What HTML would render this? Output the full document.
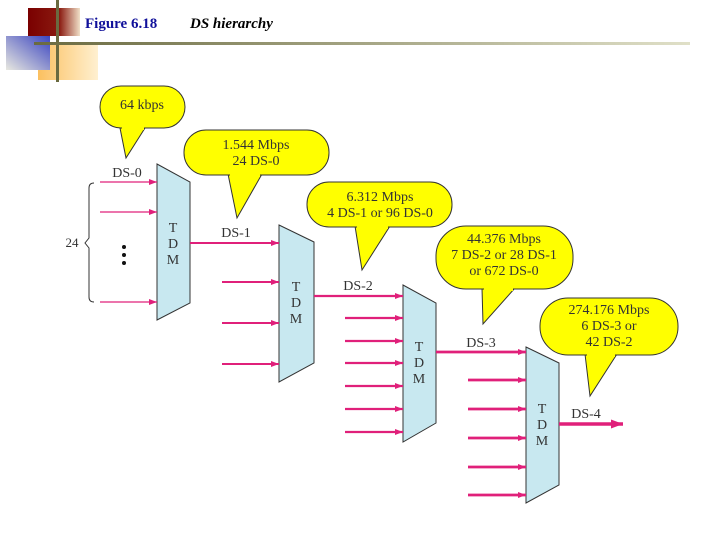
<!DOCTYPE html>
<html><head><style>
body{margin:0;width:720px;height:540px;background:#fff;overflow:hidden;font-family:"Liberation Serif",serif}
</style></head><body>
<svg width="720" height="540" viewBox="0 0 720 540" xmlns="http://www.w3.org/2000/svg" font-family="Liberation Serif, serif">
<defs>
<linearGradient id="bl2" x1="1" y1="0" x2="0" y2="1"><stop offset="0" stop-color="#3a44c0"/><stop offset="1" stop-color="#e8e8e0"/></linearGradient>
<linearGradient id="or" x1="0" y1="0" x2="1" y2="0"><stop offset="0" stop-color="#fbc060"/><stop offset="1" stop-color="#fff0d0"/></linearGradient>
<linearGradient id="rd" x1="0" y1="0" x2="1" y2="0"><stop offset="0" stop-color="#7a0000"/><stop offset="0.6" stop-color="#8a1a10"/><stop offset="1" stop-color="#f0e0c8"/></linearGradient>
<linearGradient id="ln" x1="0" y1="0" x2="1" y2="0"><stop offset="0" stop-color="#6a6a40"/><stop offset="1" stop-color="#e0e0c8"/></linearGradient>
<marker id="ah" markerWidth="8" markerHeight="6" refX="8" refY="3" orient="auto" markerUnits="userSpaceOnUse"><path d="M0,0 L8,3 L0,6 z" fill="#e0207a"/></marker>
<marker id="ah2" markerWidth="12" markerHeight="9" refX="12" refY="4.5" orient="auto" markerUnits="userSpaceOnUse"><path d="M0,0 L12,4.5 L0,9 z" fill="#e0207a"/></marker>
</defs>
<rect x="28" y="8" width="52" height="28" fill="url(#rd)"/>
<rect x="38" y="44" width="60" height="36" fill="url(#or)"/>
<rect x="6" y="36" width="44" height="34" fill="url(#bl2)"/>
<rect x="56" y="0" width="3" height="82" fill="#6a6a40"/>
<rect x="34" y="42" width="656" height="3" fill="url(#ln)"/>
<text x="85" y="28" font-size="15" font-weight="bold" fill="#10109a">Figure 6.18</text>
<text x="190" y="28" font-size="15" font-weight="bold" font-style="italic" fill="#000">DS hierarchy</text>

<g stroke="#333" stroke-width="1" fill="#ffff00">
<path d="M120,128 L126,158 L145,128 Z" />
<rect x="100" y="86" width="85" height="42" rx="21"/>
<path d="M228,174 L237,218 L262,174 Z"/>
<rect x="184" y="130" width="145" height="45" rx="22"/>
<path d="M355,226 L362,270 L390,226 Z"/>
<rect x="307" y="182" width="145" height="45" rx="22"/>
<path d="M482,288 L483,324 L515,288 Z"/>
<rect x="436" y="226" width="137" height="63" rx="30"/>
<path d="M585,354 L590,396 L617,354 Z"/>
<rect x="540" y="298" width="138" height="57" rx="28"/>
</g>
<g fill="#ffff00"><rect x="122" y="125" width="22" height="5"/><rect x="230" y="172" width="30" height="5"/><rect x="357" y="224" width="31" height="5"/><rect x="484" y="286" width="29" height="5"/><rect x="587" y="352" width="28" height="5"/></g>
<g font-size="14" text-anchor="middle" fill="#333">
<text x="142" y="109">64 kbps</text>
<text x="256" y="149">1.544 Mbps</text><text x="256" y="165">24 DS-0</text>
<text x="380" y="201">6.312 Mbps</text><text x="380" y="217">4 DS-1 or 96 DS-0</text>
<text x="504" y="243">44.376 Mbps</text><text x="504" y="259">7 DS-2 or 28 DS-1</text><text x="504" y="275">or 672 DS-0</text>
<text x="609" y="314">274.176 Mbps</text><text x="609" y="330">6 DS-3 or</text><text x="609" y="346">42 DS-2</text>
</g>

<g fill="#c8e8f0" stroke="#333" stroke-width="1">
<path d="M157,164 L190,182 L190,303 L157,320 Z"/>
<path d="M279,225 L314,242 L314,363 L279,382 Z"/>
<path d="M403,285 L436,303 L436,423 L403,442 Z"/>
<path d="M526,347 L559,363 L559,485 L526,503 Z"/>
</g>
<g font-size="14" text-anchor="middle" fill="#333">
<text x="173" y="232">T</text><text x="173" y="248">D</text><text x="173" y="264">M</text>
<text x="296" y="291">T</text><text x="296" y="307">D</text><text x="296" y="323">M</text>
<text x="419" y="351">T</text><text x="419" y="367">D</text><text x="419" y="383">M</text>
<text x="542" y="413">T</text><text x="542" y="429">D</text><text x="542" y="445">M</text>
<text x="127" y="177">DS-0</text>
<text x="236" y="237">DS-1</text>
<text x="358" y="290">DS-2</text>
<text x="481" y="347">DS-3</text>
<text x="586" y="418">DS-4</text>
<text x="72" y="247" font-size="13">24</text>
</g>
<path d="M94,183 Q89,183 89,188 L89,238 L85,243 L89,248 L89,297 Q89,302 94,302" fill="none" stroke="#333" stroke-width="1"/>
<circle cx="124" cy="247" r="2" fill="#111"/><circle cx="124" cy="255" r="2" fill="#111"/><circle cx="124" cy="263" r="2" fill="#111"/>

<g stroke="#e0207a" stroke-width="1.3" marker-end="url(#ah)">
<line x1="100" y1="182" x2="157" y2="182"/>
<line x1="100" y1="212" x2="157" y2="212"/>
<line x1="100" y1="302" x2="157" y2="302"/>
</g>
<g stroke="#e0207a" stroke-width="2" marker-end="url(#ah)">
<line x1="190" y1="243" x2="279" y2="243"/>
<line x1="222" y1="282" x2="279" y2="282"/>
<line x1="222" y1="323" x2="279" y2="323"/>
<line x1="222" y1="364" x2="279" y2="364"/>
</g>
<g stroke="#e0207a" stroke-width="2.3" marker-end="url(#ah)">
<line x1="314" y1="296" x2="403" y2="296"/>
<line x1="345" y1="318" x2="403" y2="318"/>
<line x1="345" y1="341" x2="403" y2="341"/>
<line x1="345" y1="363" x2="403" y2="363"/>
<line x1="345" y1="386" x2="403" y2="386"/>
<line x1="345" y1="409" x2="403" y2="409"/>
<line x1="345" y1="432" x2="403" y2="432"/>
</g>
<g stroke="#e0207a" stroke-width="2.8" marker-end="url(#ah)">
<line x1="436" y1="352" x2="526" y2="352"/>
<line x1="468" y1="380" x2="526" y2="380"/>
<line x1="468" y1="409" x2="526" y2="409"/>
<line x1="468" y1="438" x2="526" y2="438"/>
<line x1="468" y1="467" x2="526" y2="467"/>
<line x1="468" y1="495" x2="526" y2="495"/>
</g>
<line x1="559" y1="424" x2="623" y2="424" stroke="#e0207a" stroke-width="3.5" marker-end="url(#ah2)"/>
</svg>
</body></html>
